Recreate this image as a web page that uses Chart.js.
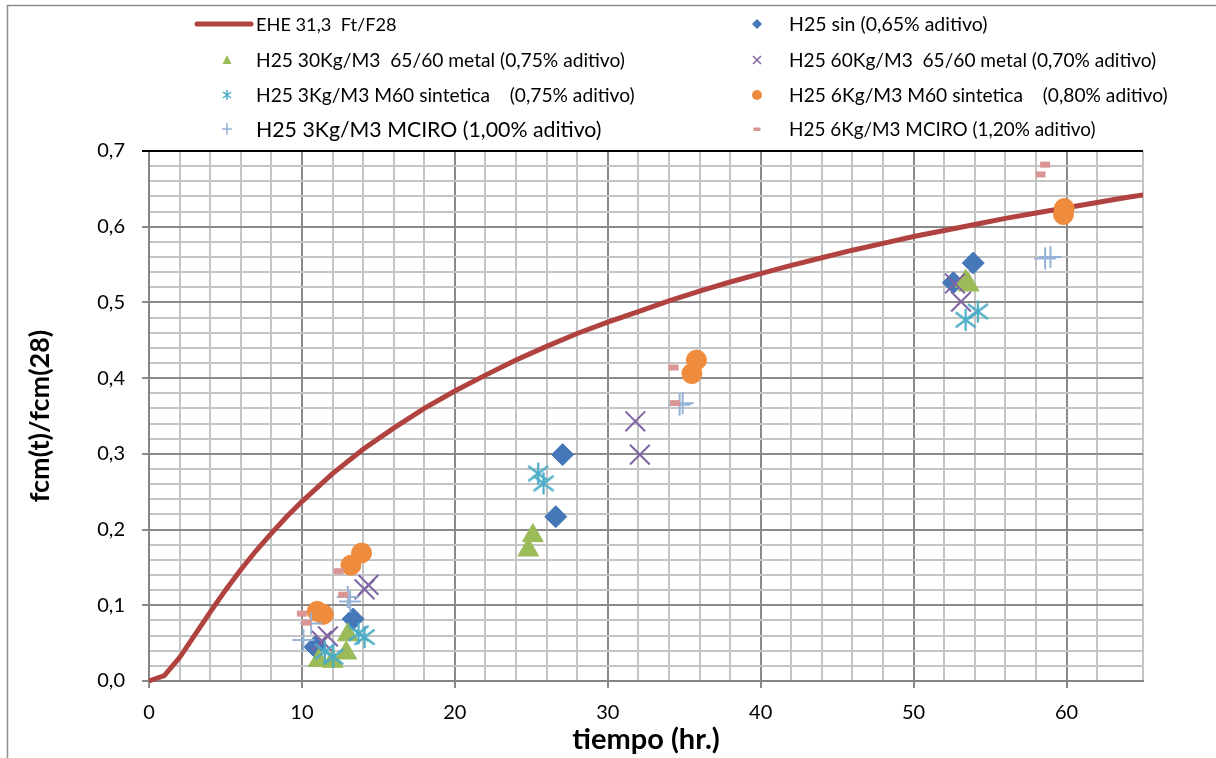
<!DOCTYPE html>
<html>
<head>
<meta charset="utf-8">
<title>fcm(t)/fcm(28)</title>
<script src="https://cdn.jsdelivr.net/npm/chart.js@4/dist/chart.umd.min.js"></script>
<style>
  body { margin: 0; background: #fff; }
</style>
</head>
<body>
<canvas id="chart" width="1216" height="758"></canvas>
<script>
// EHE curve (hours -> ratio)
const eheHours = [0, 1, 2, 3, 4, 5, 6, 7, 8, 9, 10, 12, 14, 16, 18, 20, 22, 24, 26, 28, 30, 32, 34, 36, 38, 40, 42, 44, 46, 48, 50, 52, 54, 56, 58, 60, 62, 64, 66];
const eheRatio = [0, 0.007, 0.031, 0.061, 0.091, 0.120, 0.147, 0.172, 0.195, 0.217, 0.237, 0.274, 0.306, 0.334, 0.360, 0.383, 0.404, 0.424, 0.442, 0.459, 0.474, 0.488, 0.502, 0.515, 0.527, 0.538, 0.549, 0.559, 0.569, 0.578, 0.587, 0.595, 0.603, 0.611, 0.618, 0.625, 0.632, 0.639, 0.645];

// measured specimens
const sinHours = [10.85, 13.35, 26.6, 27.05, 52.6, 53.9];
const sinRatio = [0.045, 0.082, 0.217, 0.299, 0.526, 0.552];

const metal30Hours = [11.1, 12.0, 12.9, 13.0, 24.8, 25.1, 53.4, 53.6];
const metal30Ratio = [0.027, 0.026, 0.037, 0.061, 0.173, 0.192, 0.528, 0.523];

const metal60Hours = [11.3, 11.7, 14.1, 14.35, 31.8, 32.1, 52.7, 53.1];
const metal60Ratio = [0.053, 0.059, 0.121, 0.127, 0.343, 0.299, 0.525, 0.501];

const sint3Hours = [11.5, 12.05, 13.7, 14.1, 25.45, 25.8, 53.4, 54.2];
const sint3Ratio = [0.039, 0.032, 0.063, 0.058, 0.274, 0.261, 0.477, 0.488];

const sint6Hours = [11.0, 11.4, 13.2, 13.9, 35.5, 35.8, 59.8, 59.85];
const sint6Ratio = [0.092, 0.088, 0.153, 0.169, 0.406, 0.424, 0.616, 0.624];

const mciro3Hours = [10.1, 10.6, 13.0, 13.15, 34.7, 34.9, 58.6, 58.95];
const mciro3Ratio = [0.054, 0.076, 0.111, 0.105, 0.365, 0.367, 0.558, 0.560];

const mciro6Hours = [10.0, 10.3, 12.4, 12.7, 34.3, 34.4, 58.3, 58.6];
const mciro6Ratio = [0.089, 0.077, 0.145, 0.114, 0.414, 0.367, 0.669, 0.682];

const FONT = "Lato, 'Liberation Sans', sans-serif";

// turn two arrays into {x, y} points
function toPoints(xs, ys) {
    return xs.map((x, i) => ({ x: x, y: ys[i] }));
}

// asterisk marker (X plus a vertical bar) as a small canvas
function asterisk(size, color, lw) {
    const c = document.createElement('canvas');
    c.width = size;
    c.height = size;
    const g = c.getContext('2d');
    const m = size / 2;
    const d = size / 2 - 2;
    g.strokeStyle = color;
    g.lineWidth = lw;
    g.beginPath();
    g.moveTo(m - d, m - d * 0.75); g.lineTo(m + d, m + d * 0.75);
    g.moveTo(m + d, m - d * 0.75); g.lineTo(m - d, m + d * 0.75);
    g.moveTo(m, 1); g.lineTo(m, size - 1);
    g.stroke();
    return c;
}

const colors = {
    ehe: '#B0433F',
    sin: '#4677B8',
    metal30: '#9BBB59',
    metal60: '#8064A2',
    sint3: '#4BACC6',
    sint6: '#EE8B3D',
    mciro3: '#95B3D7',
    mciro6: '#D99694'
};

const isMajorY = v => Math.abs(v * 10 - Math.round(v * 10)) < 1e-6;
const isMajorX = v => Math.abs(v / 10 - Math.round(v / 10)) < 1e-6;

const datasets = [
    {
        label: 'EHE 31,3  Ft/F28',
        data: toPoints(eheHours, eheRatio),
        showLine: true,
        borderColor: colors.ehe,
        borderWidth: 5,
        pointRadius: 0,
        tension: 0,
        clip: { left: 5, top: 5, right: 0, bottom: 5 }
    },
    {
        label: 'H25 sin (0,65% aditivo)',
        data: toPoints(sinHours, sinRatio),
        pointStyle: 'rectRot', pointRadius: 11,
        backgroundColor: colors.sin, borderColor: colors.sin, borderWidth: 1
    },
    {
        label: 'H25 30Kg/M3  65/60 metal (0,75% aditivo)',
        data: toPoints(metal30Hours, metal30Ratio),
        pointStyle: 'triangle', pointRadius: 12,
        backgroundColor: colors.metal30, borderColor: colors.metal30, borderWidth: 1
    },
    {
        label: 'H25 60Kg/M3  65/60 metal (0,70% aditivo)',
        data: toPoints(metal60Hours, metal60Ratio),
        pointStyle: 'crossRot', pointRadius: 14,
        borderColor: colors.metal60, borderWidth: 2
    },
    {
        label: 'H25 3Kg/M3 M60 sintetica    (0,75% aditivo)',
        data: toPoints(sint3Hours, sint3Ratio),
        pointStyle: asterisk(24, colors.sint3, 2.2), pointRadius: 11,
        borderColor: colors.sint3
    },
    {
        label: 'H25 6Kg/M3 M60 sintetica    (0,80% aditivo)',
        data: toPoints(sint6Hours, sint6Ratio),
        pointStyle: 'circle', pointRadius: 10,
        backgroundColor: colors.sint6, borderColor: colors.sint6, borderWidth: 1
    },
    {
        label: 'H25 3Kg/M3 MCIRO (1,00% aditivo)',
        data: toPoints(mciro3Hours, mciro3Ratio),
        pointStyle: 'cross', pointRadius: 11,
        borderColor: colors.mciro3, borderWidth: 2
    },
    {
        label: 'H25 6Kg/M3 MCIRO (1,20% aditivo)',
        data: toPoints(mciro6Hours, mciro6Ratio),
        pointStyle: 'line', pointRadius: 5,
        borderColor: colors.mciro6, borderWidth: 6
    }
];
// first series at the bottom, last on top (like the spreadsheet)
datasets.forEach((ds, i) => { ds.order = 20 - i; });

// legend placement: [dataset index, marker x, text x, row y, text width, base size]
const legendItems = [
    [0, 224, 256, 24, 141, 20],
    [1, 757, 789, 24, 198, 20],
    [2, 227, 256, 60, 369, 20],
    [3, 757, 789, 60, 368, 20],
    [4, 227, 256, 95, 379, 20],
    [5, 757, 789, 95, 379, 20],
    [6, 227, 256, 129, 345, 23],
    [7, 757, 789, 129, 307, 20]
];

function legendMarker(ctx, idx, x, y) {
    const ds = datasets[idx];
    ctx.save();
    ctx.fillStyle = ds.backgroundColor || ds.borderColor;
    ctx.strokeStyle = ds.borderColor;
    ctx.beginPath();
    if (idx === 0) {
        ctx.lineWidth = 5;
        ctx.lineCap = 'round';
        ctx.moveTo(197, y); ctx.lineTo(251, y);
        ctx.stroke();
    } else if (idx === 1) {
        ctx.moveTo(x, y - 5); ctx.lineTo(x + 5, y); ctx.lineTo(x, y + 5); ctx.lineTo(x - 5, y);
        ctx.closePath(); ctx.fill();
    } else if (idx === 2) {
        ctx.moveTo(x, y - 5); ctx.lineTo(x + 4.5, y + 4); ctx.lineTo(x - 4.5, y + 4);
        ctx.closePath(); ctx.fill();
    } else if (idx === 3) {
        ctx.lineWidth = 1.5;
        ctx.moveTo(x - 4, y - 4); ctx.lineTo(x + 4, y + 4);
        ctx.moveTo(x + 4, y - 4); ctx.lineTo(x - 4, y + 4);
        ctx.stroke();
    } else if (idx === 4) {
        ctx.drawImage(asterisk(12, ds.borderColor, 1.5), x - 6, y - 6);
    } else if (idx === 5) {
        ctx.arc(x, y, 5, 0, Math.PI * 2); ctx.fill();
    } else if (idx === 6) {
        ctx.lineWidth = 1.5;
        ctx.moveTo(x - 5, y); ctx.lineTo(x + 5, y);
        ctx.moveTo(x, y - 6); ctx.lineTo(x, y + 6);
        ctx.stroke();
    } else {
        ctx.fillRect(x - 3.5, y - 1.5, 7, 3.5);
    }
    ctx.restore();
}

const decorPlugin = {
    id: 'decor',
    afterDraw(chart) {
        const ctx = chart.ctx;
        const area = chart.chartArea;
        ctx.save();
        // outer frame
        ctx.strokeStyle = '#8c8c8c';
        ctx.lineWidth = 1.5;
        ctx.strokeRect(7.5, 5.5, 1400, 900);
        // dark top edge of the plot area
        ctx.strokeStyle = '#000';
        ctx.lineWidth = 2;
        ctx.beginPath();
        ctx.moveTo(area.left - 7, area.top);
        ctx.lineTo(area.right, area.top);
        ctx.stroke();
        // legend, two columns
        ctx.fillStyle = '#000';
        ctx.textBaseline = 'middle';
        legendItems.forEach(([idx, mx, tx, y, w, size]) => {
            const text = datasets[idx].label;
            ctx.font = size + 'px ' + FONT;
            const fitted = size * w / ctx.measureText(text).width;
            ctx.font = fitted.toFixed(1) + 'px ' + FONT;
            ctx.fillText(text, tx, y + 1);
            legendMarker(ctx, idx, mx, y);
        });
        ctx.restore();
    }
};

new Chart(document.getElementById('chart'), {
    type: 'scatter',
    data: { datasets: datasets },
    options: {
        responsive: false,
        animation: false,
        events: [],
        layout: { padding: { left: 20, top: 151, right: 73, bottom: 0 } },
        plugins: {
            legend: { display: false },
            tooltip: { enabled: false }
        },
        scales: {
            x: {
                type: 'linear',
                min: 0,
                max: 65,
                afterFit: scale => { scale.height = 77; },
                ticks: {
                    stepSize: 2,
                    autoSkip: false,
                    maxRotation: 0,
                    padding: 13,
                    color: '#000',
                    font: { family: FONT, size: 20 },
                    callback: v => isMajorX(v) ? String(v) : ''
                },
                grid: {
                    color: c => isMajorX(c.tick.value) ? '#8a8a8a' : '#c4c4c4',
                    lineWidth: 2,
                    tickLength: 7,
                    tickColor: c => isMajorX(c.tick.value) ? '#8a8a8a' : 'rgba(0,0,0,0)'
                },
                border: { color: '#868686', width: 2 },
                title: {
                    display: true,
                    text: 'tiempo (hr.)',
                    color: '#000',
                    font: { family: FONT, size: 29, weight: 'bold' },
                    padding: { top: 0, bottom: 1 }
                }
            },
            y: {
                min: 0,
                max: 0.7,
                afterFit: scale => { scale.width = 129; },
                ticks: {
                    stepSize: 0.02,
                    autoSkip: false,
                    padding: 17,
                    color: '#000',
                    font: { family: FONT, size: 20 },
                    callback: v => isMajorY(v) ? v.toFixed(1).replace('.', ',') : ''
                },
                grid: {
                    color: c => isMajorY(c.tick.value) ? '#8a8a8a' : '#c4c4c4',
                    lineWidth: 2,
                    tickLength: 7,
                    tickColor: c => isMajorY(c.tick.value) ? '#8a8a8a' : 'rgba(0,0,0,0)'
                },
                border: { color: '#868686', width: 2 },
                title: {
                    display: true,
                    text: 'fcm(t)/fcm(28)',
                    color: '#000',
                    font: { family: FONT, size: 27, weight: 'bold' },
                    padding: { top: 4, bottom: 0 }
                }
            }
        }
    },
    plugins: [decorPlugin]
});
</script>
</body>
</html>
